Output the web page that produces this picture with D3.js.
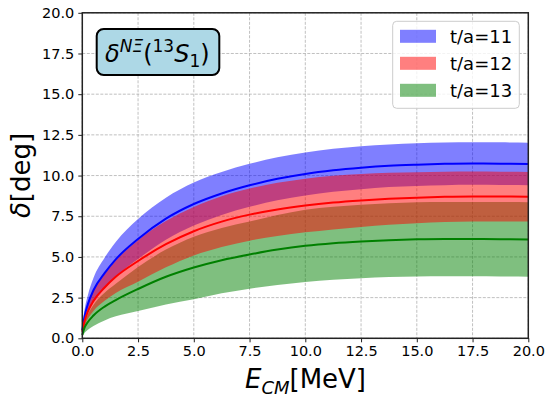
<!DOCTYPE html>
<html><head><meta charset="utf-8">
<script src="https://cdn.jsdelivr.net/npm/d3@7"></script>
<style>body{margin:0;background:#fff}svg{display:block;font-family:"DejaVu Sans",sans-serif}</style>
</head><body>
<svg id="c" width="553" height="399"></svg>
<script>
const energy = [0, 0.1, 0.25, 0.5, 1, 1.5, 2.5, 3.75, 5, 6.25, 7.5, 8.75, 10, 11.25, 12.5, 13.75, 15, 16.25, 17.5, 18.75, 20];
const blueCenter = [0.5, 1.35, 2.1, 2.95, 4.0, 4.85, 6.1, 7.35, 8.25, 8.9, 9.4, 9.8, 10.1, 10.32, 10.48, 10.6, 10.67, 10.72, 10.74, 10.73, 10.71];
const blueUpper  = [0.7, 1.75, 2.65, 3.7, 4.95, 5.92, 7.33, 8.64, 9.57, 10.22, 10.72, 11.12, 11.42, 11.64, 11.8, 11.91, 11.98, 12.03, 12.05, 12.04, 12.02];
const blueLower  = [0.3, 0.95, 1.55, 2.2, 3.05, 3.78, 4.87, 6.06, 6.93, 7.58, 8.08, 8.48, 8.78, 9.0, 9.16, 9.29, 9.36, 9.41, 9.43, 9.42, 9.4];
const redCenter  = [0.4, 1.05, 1.65, 2.3, 3.12, 3.78, 4.75, 5.78, 6.58, 7.17, 7.6, 7.92, 8.16, 8.34, 8.47, 8.57, 8.64, 8.69, 8.71, 8.71, 8.70];
const redUpper   = [0.5, 1.35, 2.1, 2.92, 3.94, 4.78, 6.03, 7.2, 8.07, 8.73, 9.2, 9.55, 9.81, 9.99, 10.1, 10.17, 10.21, 10.24, 10.25, 10.24, 10.22];
const redLower   = [0.3, 0.75, 1.2, 1.68, 2.3, 2.78, 3.47, 4.36, 5.09, 5.61, 6.0, 6.29, 6.51, 6.69, 6.84, 6.97, 7.07, 7.14, 7.17, 7.18, 7.18];
const greenCenter= [0.2, 0.65, 1.0, 1.4, 1.95, 2.35, 3.03, 3.78, 4.35, 4.8, 5.15, 5.45, 5.68, 5.84, 5.95, 6.03, 6.08, 6.1, 6.1, 6.09, 6.07];
const greenUpper = [0.3, 0.98, 1.48, 2.05, 2.8, 3.35, 4.38, 5.45, 6.24, 6.78, 7.18, 7.58, 7.9, 8.09, 8.21, 8.3, 8.36, 8.38, 8.38, 8.38, 8.36];
const greenLower = [0.1, 0.32, 0.52, 0.75, 1.1, 1.35, 1.68, 2.08, 2.4, 2.77, 3.05, 3.27, 3.46, 3.59, 3.69, 3.76, 3.8, 3.82, 3.82, 3.8, 3.78];
const legendLabels = ["t/a=11", "t/a=12", "t/a=13"];
const tickValues = [0, 2.5, 5, 7.5, 10, 12.5, 15, 17.5, 20];

const svg = d3.select("#c");
const L = 82.3, R = 528.3, T = 12.8, B = 338.3;
const x = d3.scaleLinear().domain([0, 20]).range([L, R]);
const y = d3.scaleLinear().domain([0, 20]).range([B, T]);

// grid
const grid = svg.append("g");
tickValues.forEach(v => {
  grid.append("line").attr("x1", x(v)).attr("x2", x(v)).attr("y1", T).attr("y2", B);
  grid.append("line").attr("x1", L).attr("x2", R).attr("y1", y(v)).attr("y2", y(v));
});
grid.selectAll("line").attr("stroke", "#b0b0b0").attr("stroke-width", 0.8).attr("stroke-dasharray", "3,1.5");

const series = [
  {c: blueCenter, u: blueUpper, l: blueLower, col: "blue", fill: "rgba(0,0,255,0.5)"},
  {c: redCenter, u: redUpper, l: redLower, col: "red", fill: "rgba(255,0,0,0.5)"},
  {c: greenCenter, u: greenUpper, l: greenLower, col: "green", fill: "rgba(0,128,0,0.5)"}
];
const curve = d3.curveMonotoneX;
const area = d3.area().x(d => x(d.e)).y0(d => y(d.lo)).y1(d => y(d.hi)).curve(curve);
const line = d3.line().x(d => x(d.e)).y(d => y(d.v)).curve(curve);

[0, 2, 1].forEach(i => {
  const s = series[i];
  svg.append("path").datum(energy.map((e, k) => ({e, lo: s.l[k], hi: s.u[k]})))
    .attr("d", area).attr("fill", s.fill);
});
series.forEach(s => {
  svg.append("path").datum(energy.map((e, k) => ({e, v: s.c[k]})))
    .attr("d", line).attr("fill", "none").attr("stroke", s.col).attr("stroke-width", 2);
});

// axes
const xa = svg.append("g").attr("transform", `translate(0,${B})`)
  .call(d3.axisBottom(x).tickValues(tickValues).tickFormat(d3.format(".1f")).tickSize(4).tickPadding(3));
const ya = svg.append("g").attr("transform", `translate(${L},0)`)
  .call(d3.axisLeft(y).tickValues(tickValues).tickFormat(d3.format(".1f")).tickSize(4).tickPadding(4));
[xa, ya].forEach(a => {
  a.select(".domain").remove();
  a.selectAll("text").attr("font-size", 14.5).attr("font-family", "DejaVu Sans").attr("fill", "#000");
  a.selectAll("line").attr("stroke", "#222");
});
svg.append("rect").attr("x", L).attr("y", T).attr("width", R - L).attr("height", B - T)
  .attr("fill", "none").attr("stroke", "#222").attr("stroke-width", 1.5);

// annotation box
svg.append("rect").attr("x", 96.7).attr("y", 29).attr("width", 122.6).attr("height", 46)
  .attr("rx", 7).attr("fill", "#add8e6").attr("stroke", "#000").attr("stroke-width", 2);
const at = svg.append("text").attr("x", 105).attr("y", 62).attr("font-size", 24).attr("fill", "#000");
at.append("tspan").attr("font-style", "italic").text("δ");
at.append("tspan").attr("font-style", "italic").attr("font-size", 17).attr("dy", -10).text("NΞ");
at.append("tspan").attr("dy", 10).text("(");
at.append("tspan").attr("font-size", 17).attr("dy", -10).text("13");
at.append("tspan").attr("font-style", "italic").attr("dy", 10).text("S");
at.append("tspan").attr("font-size", 17).attr("dy", 5).text("1");
at.append("tspan").attr("dy", -5).text(")");

// legend
svg.append("rect").attr("x", 392.7).attr("y", 21.3).attr("width", 126.6).attr("height", 87)
  .attr("rx", 4).attr("fill", "rgba(255,255,255,0.8)").attr("stroke", "#ccc").attr("stroke-width", 1);
legendLabels.forEach((lab, i) => {
  const cy = 36.3 + 27 * i;
  svg.append("rect").attr("x", 400).attr("y", cy - 6.5).attr("width", 36).attr("height", 13).attr("fill", series[i].fill);
  svg.append("text").attr("x", 450).attr("y", cy + 6.5).attr("font-size", 18).attr("fill", "#000").text(lab);
});

// axis labels
const xl = svg.append("text").attr("x", 305.5).attr("y", 388).attr("text-anchor", "middle").attr("font-size", 26).attr("fill", "#000");
xl.append("tspan").attr("font-style", "italic").text("E");
xl.append("tspan").attr("font-style", "italic").attr("font-size", 18).attr("dy", 6).text("CM");
xl.append("tspan").attr("dy", -6).text("[MeV]");
const yl = svg.append("text").attr("transform", "translate(30,175.5) rotate(-90)").attr("text-anchor", "middle").attr("font-size", 26).attr("fill", "#000");
yl.append("tspan").attr("font-style", "italic").text("δ");
yl.append("tspan").text("[deg]");
</script>
</body></html>
